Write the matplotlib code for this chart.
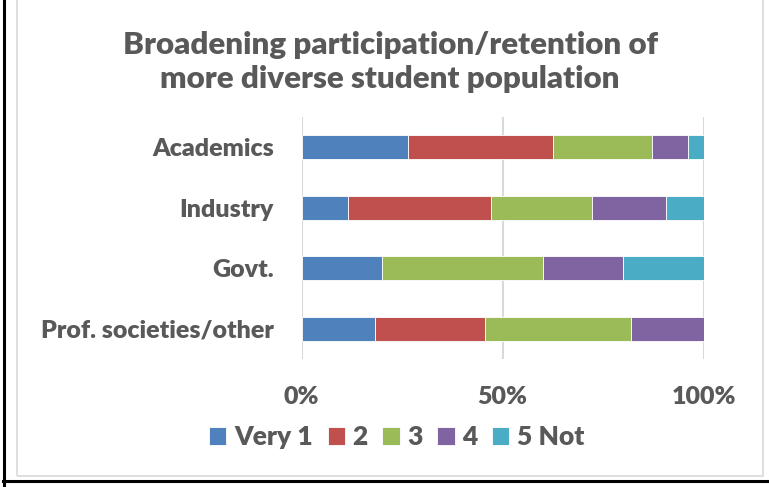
import matplotlib
matplotlib.use("Agg")
import matplotlib.pyplot as plt
from matplotlib.patches import Rectangle
from matplotlib.lines import Line2D

# Share of responses (%) per stakeholder group
categories = ["Academics", "Industry", "Govt.", "Prof. societies/other"]
series_names = ["Very 1", "2", "3", "4", "5 Not"]
very_1 = [26.6, 11.6, 20.0, 18.2]
two = [36.0, 35.6, 0.0, 27.3]
three = [24.6, 25.1, 40.0, 36.4]
four = [9.0, 18.4, 20.0, 18.2]
five_not = [3.8, 9.3, 20.0, 0.0]
x_ticks = [0, 50, 100]
x_tick_labels = ["0%", "50%", "100%"]

colors = ["#4F81BD", "#C0504D", "#9BBB59", "#8064A2", "#4BACC6"]
text_color = "#595959"
font = "Lato"
weight = "heavy"

W, H = 769, 487
fig = plt.figure(figsize=(W / 100, H / 100), dpi=100)

# outer frame lines
fig.add_artist(Line2D([4 / W, 4 / W], [0, 1], color="black", lw=2.2, transform=fig.transFigure))
fig.add_artist(Line2D([3 / W, 1], [1 - 481 / H, 1 - 481 / H], color="black", lw=2.2, transform=fig.transFigure))
# chart area border
fig.add_artist(Rectangle((17 / W, 1 - 476 / H), (763 - 17) / W, 476 / H + 0.01,
                         fill=False, edgecolor="#D9D9D9", lw=1.2, transform=fig.transFigure))

left, right = 301.5 / W, 703.7 / W
top, bottom = 1 - 117 / H, 1 - 359 / H
ax = fig.add_axes([left, bottom, right - left, top - bottom])

series = [very_1, two, three, four, five_not]
ypos = list(range(len(categories)))
lefts = [0.0] * len(categories)
for name, vals, c in zip(series_names, series, colors):
    ax.barh(ypos, vals, left=lefts, height=0.4, color=c, edgecolor="white",
            linewidth=0.6, label=name, zorder=3)
    lefts = [l + v for l, v in zip(lefts, vals)]

ax.set_xlim(0, 100)
ax.set_ylim(len(categories) - 0.5, -0.5)
ax.set_xticks(x_ticks)
ax.set_xticklabels(x_tick_labels)
ax.set_yticks(ypos)
ax.set_yticklabels(categories)
for s in ax.spines.values():
    s.set_visible(False)
ax.grid(axis="x", color="#D9D9D9", lw=1.5, zorder=0)
ax.tick_params(axis="both", length=0, colors=text_color)
ax.tick_params(axis="x", pad=19.5)
ax.tick_params(axis="y", pad=20)
for lab in ax.get_xticklabels() + ax.get_yticklabels():
    lab.set_fontfamily(font)
    lab.set_fontweight(weight)
    lab.set_fontsize(18)
    lab.set_color(text_color)

fig.text(390 / W, 1 - 62 / H, "Broadening participation/retention of\nmore diverse student population",
         ha="center", va="center", fontfamily=font, fontweight=weight, fontsize=22.5,
         color=text_color, linespacing=1.3)

leg = fig.legend(loc="center", bbox_to_anchor=(397 / W, 1 - 437 / H), ncol=5, frameon=False,
                 prop={"family": font, "weight": weight, "size": 19},
                 handlelength=0.65, handleheight=0.65, handletextpad=0.3, columnspacing=0.55,
                 labelcolor=text_color)

fig.savefig("out.png", dpi=100)
